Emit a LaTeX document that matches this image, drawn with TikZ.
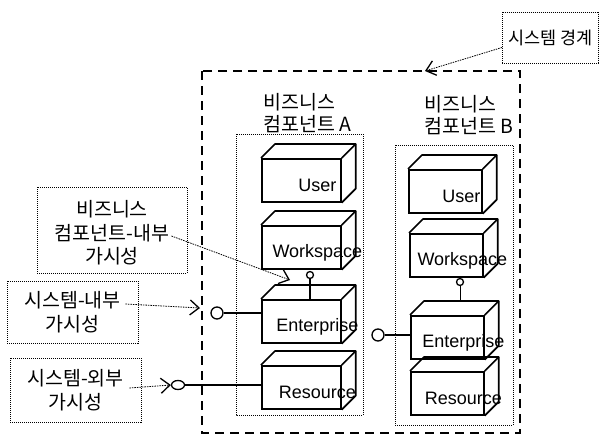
\documentclass[tikz,border=0pt]{standalone}
\usepackage{fontspec}
\setmainfont{Liberation Sans}
\newfontfamily\kofont{Noto Sans CJK KR}
\usepackage{tikz}
\usetikzlibrary{arrows.meta}
\usetikzlibrary{calc}
\usetikzlibrary{shapes.geometric}

\tikzset{
  face/.style={draw, line width=1.7pt, inner sep=0pt, anchor=north west,
    minimum height=43pt},
  comptext/.style={font=\fontsize{18}{20}\selectfont, inner sep=0pt},
  complabel/.style={font=\kofont\fontsize{19.5}{22}\selectfont, align=left,
    inner sep=0pt, anchor=north west},
  boundary/.style={line width=2.6pt, dash pattern=on 9pt off 6pt},
  compbox/.style={line width=0.9pt, dash pattern=on 1pt off 1pt},
  note/.style={draw, line width=0.9pt, dash pattern=on 1pt off 1pt,
    align=center, inner sep=0pt, font=\kofont\fontsize{19.5}{23.5}\selectfont},
  notetext/.style={align=center, inner sep=0pt,
    font=\kofont\fontsize{19.5}{23.5}\selectfont},
  pointer/.style={line width=0.8pt, dash pattern=on 1.5pt off 1pt,
    -{Straight Barb[length=9pt,width=15pt,line width=1.3pt]}},
  iface/.style={draw, circle, line width=1.3pt, inner sep=0pt, fill=white},
  link/.style={line width=2.2pt},
}

% #1 front width, #2 name, #3 north west corner, #4 text
\newcommand{\cuboid}[4][79pt]{
  \node[face, minimum width=#1] (#2) at (#3) {};
  \coordinate (#2-back) at ($(#2.north)+(14,-14)$);
  \draw[line width=1.7pt, line join=round] (#2.north west) -- ++(14,-14)
    -- ($(#2.north east)+(14,-14)$) -- ($(#2.south east)+(14,-14)$)
    -- (#2.south east);
  \draw[line width=1.7pt] (#2.north east) -- ++(14,-14);
  \node[comptext] (#2-t) at ($(#2.center)+(16,5)$) {#4};
}

\begin{document}
\begin{tikzpicture}[x=1pt, y=-1pt]
  \useasboundingbox (0,0) rectangle (602,436);

  \draw[boundary] (202,71) rectangle (520,433);
  \draw[compbox] (236,134) rectangle (363,415);
  \draw[compbox] (395,145) rectangle (513,425);

  \node[complabel] (labela) at (263,93) {비즈니스\\컴포넌트 A};
  \node[complabel] (labelb) at (424,95) {비즈니스\\컴포넌트 B};

  \cuboid{ua}{261,158}{User}
  \cuboid{wa}{261,225}{Workspace}
  \cuboid{ea}{261,299}{Enterprise}
  \cuboid{ra}{261,365}{Resource}

  \cuboid[73pt]{ub}{408,169}{User}
  \cuboid[73pt]{wb}{409,233}{Workspace}
  \cuboid[73pt]{eb}{410,315}{Enterprise}
  \cuboid[73pt]{rb}{410,371}{Resource}

  \node[iface, minimum size=12pt] (eaif) at (217,313) {};
  \draw[link] (eaif) -- (eaif -| ea.west);
  \node[iface, minimum size=12pt] (ebif) at (378,335) {};
  \draw[link] (ebif) -- (ebif -| eb.west);
  \node[iface, ellipse, minimum width=13pt, minimum height=9pt] (raif) at (178,385) {};
  \draw[line width=1.8pt] (raif) -- (raif -| ra.west);
  \node[iface, minimum size=7pt] (waif) at (310,275) {};
  \draw[line width=1.3pt] (waif) -- (waif |- ea.north);
  \node[iface, minimum size=7pt] (wbif) at (460,282) {};
  \draw[line width=1pt] (wbif) -- (wbif |- eb-back);

  \node[note, inner xsep=6pt, minimum height=51pt, anchor=west,
    font=\kofont\fontsize{17.5}{20}\selectfont] (sysnote)
    at (502,37.5) {시스템 경계};
  \node[note, minimum width=150pt, minimum height=86pt] (nbcnote)
    at (112,230) {};
  \node[notetext] (nbctext) at ($(nbcnote.center)+(0,3)$)
    {비즈니스\\컴포넌트-내부\\가시성};
  \node[note, minimum width=131pt, minimum height=62pt] (sinote)
    at (72.5,312) {시스템-내부\\가시성};
  \node[note, minimum width=131pt, minimum height=64pt] (senote)
    at (75.5,390) {시스템-외부\\가시성};

  \coordinate (systip) at (425,71);
  \coordinate (nbctip) at (290,280);
  \coordinate (sitip) at (200,308);
  \draw[pointer] ([yshift=-10pt]sysnote.west) -- (systip);
  \draw[pointer] ([xshift=-16pt,yshift=-6pt]nbcnote.east) -- (nbctip);
  \draw[pointer] ([xshift=-13pt,yshift=8pt]sinote.east) -- (sitip);
  \draw[pointer] ([xshift=-12pt,yshift=2pt]senote.east) -- (raif.west);
\end{tikzpicture}
\end{document}
